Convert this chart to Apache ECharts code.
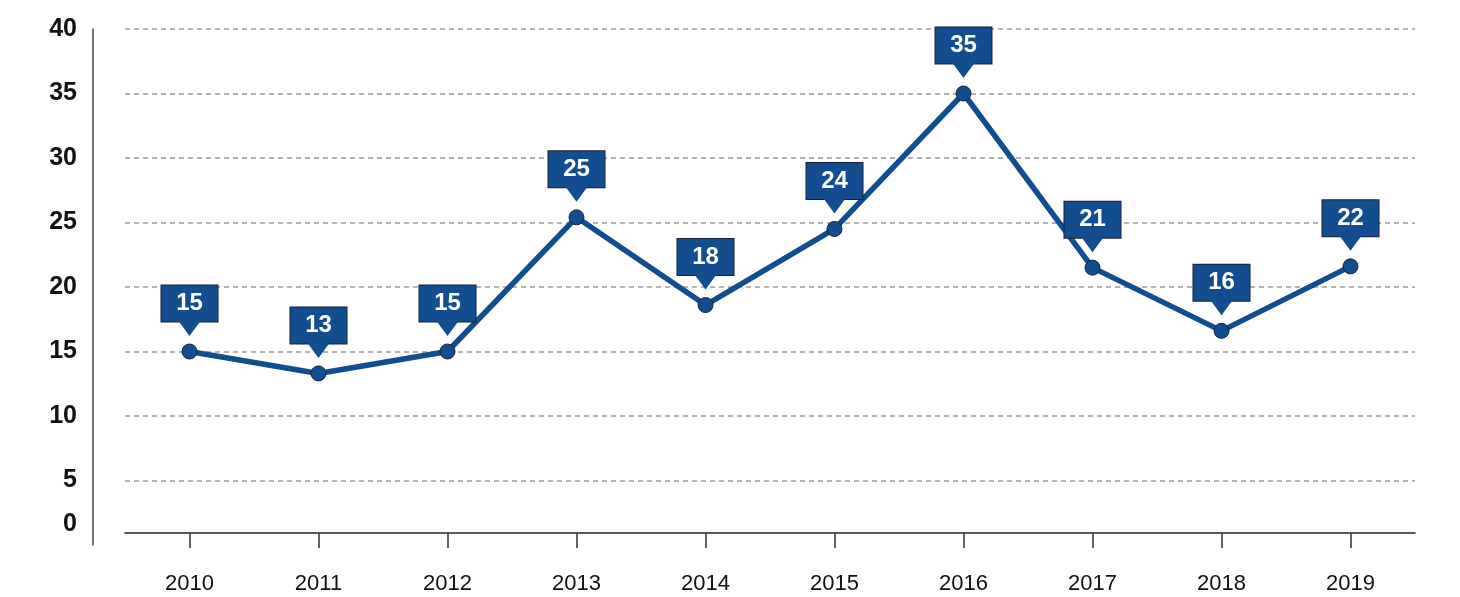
<!DOCTYPE html>
<html>
<head>
<meta charset="utf-8">
<style>
  html, body { margin: 0; padding: 0; background: #fff; }
  #chart { width: 1460px; height: 597px; }
</style>
<script src="https://cdn.jsdelivr.net/npm/echarts@6/dist/echarts.min.js"></script>
</head>
<body>
<div id="chart"></div>
<script>
// 数据
var years = ['2010', '2011', '2012', '2013', '2014', '2015', '2016', '2017', '2018', '2019'];
var values = [15, 13.3, 15, 25.4, 18.6, 24.5, 35, 21.5, 16.6, 21.6];
var labelTexts = ['15', '13', '15', '25', '18', '24', '35', '21', '16', '22'];
var yTicks = [0, 5, 10, 15, 20, 25, 30, 35, 40];

var blue = '#124d8f';
var dark = '#14233a';

var myChart = echarts.init(document.getElementById('chart'));
var option = {
  animation: false,
  textStyle: { fontFamily: 'Liberation Sans, Arial, sans-serif' },
  grid: {
    left: 125,
    right: 45,
    top: 29,
    bottom: 52
  },
  xAxis: {
    type: 'category',
    data: years,
    offset: -12,
    axisLine: { lineStyle: { color: '#222', width: 1.5 } },
    axisTick: { show: true, alignWithLabel: true, length: 15, lineStyle: { color: '#333', width: 1.5 } },
    axisLabel: { color: '#111', fontSize: 22, margin: 40 }
  },
  yAxis: {
    type: 'value',
    min: yTicks[0],
    max: yTicks[yTicks.length - 1],
    interval: 5,
    offset: 32,
    axisLine: { show: true, lineStyle: { color: '#444', width: 1.5 } },
    axisTick: { show: false },
    axisLabel: {
      color: '#111',
      fontSize: 25,
      fontWeight: 'bold',
      margin: 16,
      formatter: function (v) {
        return v === 0 ? '{z|0}' : String(v);
      },
      rich: {
        z: { fontSize: 25, fontWeight: 'bold', color: '#111', padding: [0, 0, 42, 0] }
      }
    },
    splitLine: {
      show: true,
      showMinLine: false,
      lineStyle: { color: '#9a9a9a', type: [5, 4], width: 1.5 }
    }
  },
  series: [
    {
      type: 'line',
      data: values,
      z: 3,
      symbol: 'circle',
      symbolSize: 15,
      lineStyle: { color: blue, width: 5.5 },
      itemStyle: { color: blue, borderColor: dark, borderWidth: 1 },
      label: {
        show: true,
        position: 'top',
        distance: 22,
        formatter: function (p) { return labelTexts[p.dataIndex]; },
        color: '#fff',
        fontSize: 24,
        fontWeight: 'bold',
        backgroundColor: blue,
        borderColor: dark,
        borderWidth: 1,
        width: 32,
        align: 'center',
        lineHeight: 24,
        padding: [6, 12, 6, 12]
      }
    },
    {
      // 标签下方的小三角
      type: 'scatter',
      data: values,
      z: 5,
      silent: true,
      symbol: 'triangle',
      symbolRotate: 180,
      symbolSize: [22, 15],
      symbolOffset: [0, -23],
      itemStyle: { color: blue, opacity: 1 }
    }
  ]
};

myChart.setOption(option);
</script>
</body>
</html>
